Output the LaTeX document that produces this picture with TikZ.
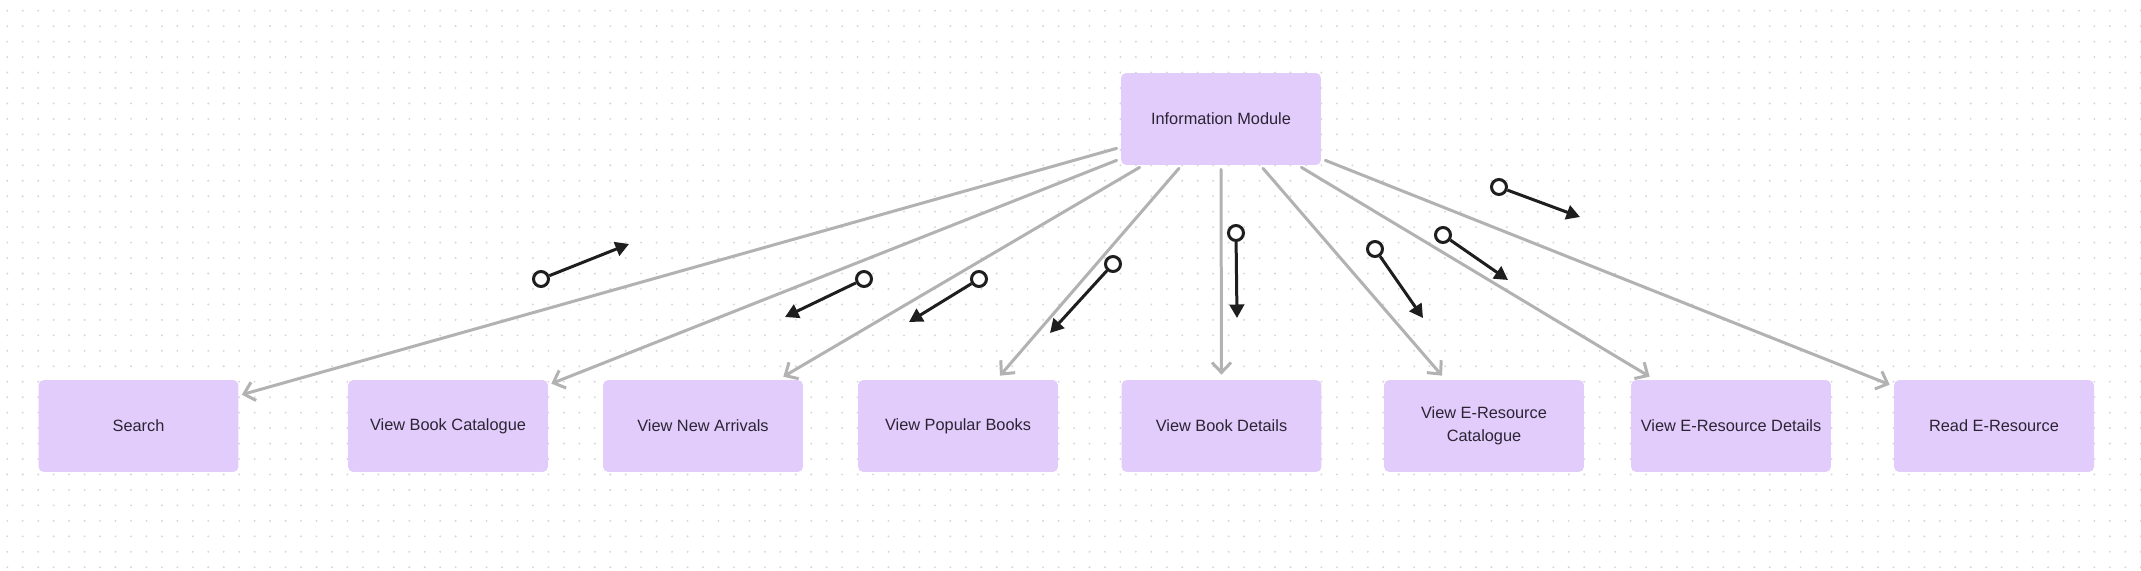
\documentclass[tikz,border=0pt]{standalone}
\usepackage{fontspec}
\setmainfont{Liberation Sans}
\usepackage{tikz}
\usetikzlibrary{arrows.meta, calc, positioning}
\definecolor{boardW}{HTML}{FFFFFF}
\definecolor{boardDot}{HTML}{D6D6D6}
\definecolor{moduleV}{HTML}{E2CCFC}
\definecolor{moduleT}{HTML}{2C2433}
\definecolor{flowG}{HTML}{B2B2B2}
\definecolor{linkK}{HTML}{1E1E1E}

\tikzset{
  module/.style = {rectangle, rounded corners = 3pt, fill = moduleV, text = moduleT,
    minimum width = 4cm, minimum height = 1.84cm, inner sep = 0pt, align = center,
    font = \fontsize{9.3}{13.2}\selectfont},
  flow/.style = {draw = flowG, line width = 0.06cm, line cap = round,
    -{Straight Barb[length = 0.2cm, width = 0.38cm]}},
  ring/.style = {circle, draw = linkK, fill = boardW, line width = 0.06cm,
    minimum size = 0.3cm, inner sep = 0pt},
  link/.style = {draw = linkK, line width = 0.06cm,
    -{Triangle[length = 0.27cm, width = 0.29cm]}}
}

\begin{document}
\begin{tikzpicture}[x = 0.02cm, y = -0.02cm]
  \def\dotStep{15.46}
  \def\dotSize{0.6pt}
  \def\rowY{426}

  % ------------------------
  % dotted board
  % ------------------------

  \fill[boardW] (0, 0) rectangle (2141, 571);
  \useasboundingbox (0, 0) rectangle (2141, 571);
  \foreach \i in {0, ..., 138} {
    \foreach \j in {0, ..., 36} {
      \fill[boardDot] ({7.3 + \i*\dotStep}, {10.7 + \j*\dotStep}) circle (\dotSize);
    }
  }

  % ------------------------
  % modules
  % ------------------------

  \node[module] (info) at (1221, 119) {Information Module};

  \node[module] (search)    at (138.5, \rowY)  {Search};
  \node[module] (bookCat)   at (448, \rowY)    {View Book Catalogue};
  \node[module] (arrivals)  at (703, \rowY)    {View New Arrivals};
  \node[module] (popular)   at (958, \rowY)    {View Popular Books};
  \node[module] (bookInfo)  at (1221.5, \rowY) {View Book Details};
  \node[module] (eresCat)   at (1484, \rowY)   {View E-Resource\\Catalogue};
  \node[module] (eresInfo)  at (1731, \rowY)   {View E-Resource Details};
  \node[module] (eresRead)  at (1994, \rowY)   {Read E-Resource};

  % ------------------------
  % grey connectors
  % ------------------------

  \draw[flow] ([shift = {(-4, -17)}]info.south west) to ([shift = {(3, 15)}]search.north east);
  \draw[flow] ([shift = {(-4, -5)}]info.south west)  to ([shift = {(3, 4)}]bookCat.north east);
  \draw[flow] ([shift = {(19, 2)}]info.south west)   to ([shift = {(-20, -3)}]arrivals.north east);
  \draw[flow] ([shift = {(-42, 3)}]info.south)       to ([shift = {(42, -4)}]popular.north);
  \draw[flow] ([shift = {(0, 4)}]info.south)         to ([shift = {(0, -5)}]bookInfo.north);
  \draw[flow] ([shift = {(42, 3)}]info.south)        to ([shift = {(-42, -4)}]eresCat.north);
  \draw[flow] ([shift = {(-20, 2)}]info.south east)  to ([shift = {(19, -3)}]eresInfo.north west);
  \draw[flow] ([shift = {(4, -5)}]info.south east)   to ([shift = {(-4, 5)}]eresRead.north west);

  % ------------------------
  % loose black links
  % ------------------------

  \foreach \k/\sx/\sy/\ex/\ey in {1/541/279/629/244, 2/864/279/785/317,
      3/979/279/909/322, 4/1113/264/1050/333, 5/1236/233/1237/318,
      6/1375/249/1423/318, 7/1443/235/1508/280, 8/1499/187/1580/217} {
    \node[ring] (ring\k) at (\sx, \sy) {};
    \coordinate (tip\k) at (\ex, \ey);
    \draw[link] (ring\k) to (tip\k);
  }
\end{tikzpicture}
\end{document}
